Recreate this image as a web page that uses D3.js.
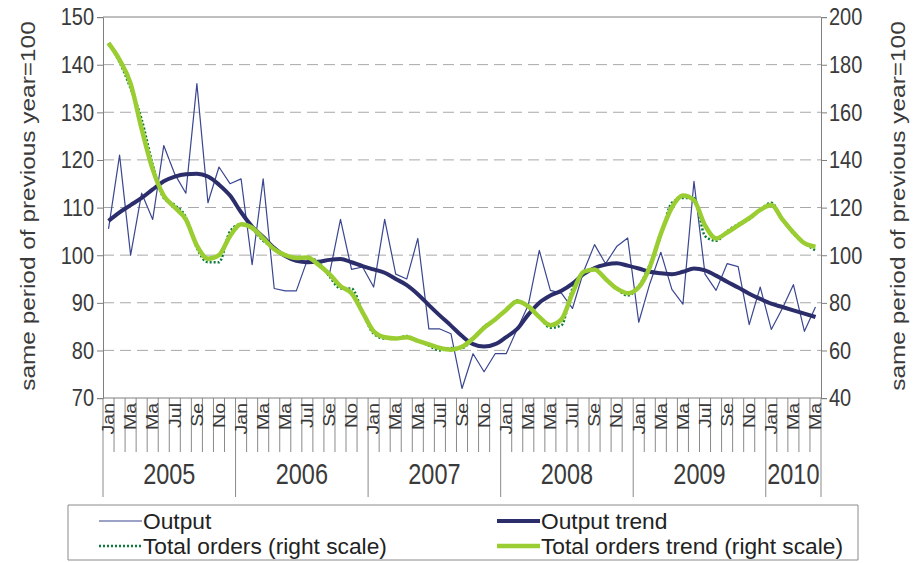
<!DOCTYPE html>
<html>
<head>
<meta charset="utf-8">
<script src="https://cdn.jsdelivr.net/npm/d3@7"></script>
<style>
  html, body { margin: 0; padding: 0; background: #fff; }
  svg { display: block; font-family: "Liberation Sans", Arial, sans-serif; }
</style>
</head>
<body>
<div id="chart"></div>
<script>
// category axis: monthly, Jan 2005 .. May 2010
const years = ["2005", "2006", "2007", "2008", "2009", "2010"];
const monthsPerYear = [12, 12, 12, 12, 12, 5];
const monthTickLabels = ["Jan", "", "Ma", "", "Ma", "", "Jul", "", "Se", "", "No", ""];

const leftTicks = [70, 80, 90, 100, 110, 120, 130, 140, 150];
const rightTicks = [40, 60, 80, 100, 120, 140, 160, 180, 200];

// left scale
const output = [
  105.5, 121, 100, 113, 107.5, 123, 117, 113, 136, 111, 118.5, 115,
  116, 98, 116, 93, 92.5, 92.5, 99, 98.5, 96, 107.5, 97, 97.5,
  93.3, 107.5, 96, 95, 103.5, 84.5, 84.5, 83.5, 72, 79.3, 75.5, 79.3,
  79.3, 84.5, 89.5, 101, 92.6, 92, 88.8, 96.5, 102.2, 98.2, 101.8, 103.6,
  85.9, 94, 100.6, 92.8, 89.7, 115.5, 96, 92.6, 98.2, 97.6, 85.4, 93.3,
  84.4, 88.8, 93.8, 84, 89.1
];
const outputTrend = [
  107.2, 109, 110.5, 112, 113.8, 115.5, 116.5, 117, 117.1, 116.5, 114.8, 112.5,
  109, 106, 103.8, 101.5, 99.8, 98.8, 98.5, 98.6, 99, 99.2, 98.5, 97.7,
  97, 96.3, 95, 93.7, 91.8, 89.5, 87.3, 85.2, 83, 81.3, 80.8, 81.3,
  82.8, 84.5, 87.5, 90, 91.5, 92.5, 94, 96, 97.3, 98, 98.3, 97.8,
  97.2, 96.5, 96.2, 96, 96.5, 97.2, 96.8, 95.7, 94.4, 93.2, 91.9, 90.8,
  89.8, 89.1, 88.4, 87.7, 87
];
// right scale
const totalOrders = [
  189, 181, 170, 157, 138, 124, 121, 116, 103, 97, 97, 110,
  113, 111, 106, 103, 100, 99, 99, 97, 91, 86, 86, 76,
  67, 65, 65, 66, 64, 62, 60, 61, 61, 65, 70, 73,
  77, 81, 78, 74, 69.5, 70.5, 86, 92, 94, 90, 86, 83,
  87, 96, 108, 122, 124, 124, 108, 106, 110, 113, 115, 119,
  122, 115, 109, 105, 102
];
const totalOrdersTrend = [
  189, 182, 172, 153, 136, 125, 120, 115, 104, 98.5, 100, 108,
  113, 111.5, 107, 102.5, 100, 98.8, 99, 96, 92, 87, 84, 76,
  68, 65.5, 65, 65.5, 64, 62.5, 61, 60.3, 61.5, 65, 69.5, 73,
  77, 80.5, 78.5, 74, 70.6, 73, 84, 93, 94, 90, 86, 84,
  86.5, 95, 109, 120, 125, 123, 112.5, 107, 109.5, 112.5, 115.5, 119,
  121, 115, 109.5, 105, 103.5
];

const legendItems = [
  { label: "Output", key: "output" },
  { label: "Output trend", key: "outputTrend" },
  { label: "Total orders (right scale)", key: "orders" },
  { label: "Total orders trend (right scale)", key: "ordersTrend" },
];

const styles = {
  output: { stroke: "#3a4690", width: 1.2, dash: null },
  outputTrend: { stroke: "#2c2e6c", width: 4, dash: null },
  orders: { stroke: "#0b7a3a", width: 2.5, dash: "2,2" },
  ordersTrend: { stroke: "#9acd32", width: 4.5, dash: null },
};

// the reference is stretched vertically, so draw in a squashed viewBox
const K = 1.22;
const W = 916, H = 563;
const py = (v) => v / K;

const svg = d3
  .select("#chart")
  .append("svg")
  .attr("width", W)
  .attr("height", H)
  .attr("viewBox", `0 0 ${W} ${H / K}`)
  .attr("preserveAspectRatio", "none");

const plotLeft = 103, plotRight = 821, plotTop = py(17), plotBottom = py(398);

const categories = years.flatMap((y, i) =>
  d3.range(monthsPerYear[i]).map((m) => `${y}-${m}`)
);

const x = d3.scaleBand().domain(categories).range([plotLeft, plotRight]).padding(0);
const cx = (i) => x(categories[i]) + x.bandwidth() / 2;
const yL = d3.scaleLinear().domain([70, 150]).range([plotBottom, plotTop]);
const yR = d3.scaleLinear().domain([40, 200]).range([plotBottom, plotTop]);

// gridlines
svg
  .append("g")
  .selectAll("line")
  .data(leftTicks.filter((t) => t > 70))
  .enter()
  .append("line")
  .attr("x1", plotLeft)
  .attr("x2", plotRight)
  .attr("y1", (d) => yL(d))
  .attr("y2", (d) => yL(d))
  .attr("stroke", (d) => (d === 150 ? "#7f7f7f" : "#a8a8a8"))
  .attr("stroke-width", 1)
  .attr("stroke-dasharray", (d) => (d === 150 ? null : "11,6"))
  .attr("vector-effect", "non-scaling-stroke");

// y axes
const styleAxis = (g) => {
  g.selectAll("path, line")
    .attr("stroke", "#7f7f7f")
    .attr("vector-effect", "non-scaling-stroke");
  g.selectAll("text").attr("fill", "#3a3a3a").style("font-size", "20px");
};

svg
  .append("g")
  .attr("transform", `translate(${plotLeft},0)`)
  .call(d3.axisLeft(yL).tickValues(leftTicks).tickSize(6).tickPadding(3).tickFormat(d3.format("d")))
  .call((g) => g.attr("font-family", null).attr("font-size", null))
  .call(styleAxis);

svg
  .append("g")
  .attr("transform", `translate(${plotRight},0)`)
  .call(d3.axisRight(yR).tickValues(rightTicks).tickSize(6).tickPadding(2).tickFormat(d3.format("d")))
  .call((g) => g.attr("font-family", null).attr("font-size", null))
  .call(styleAxis);

// category axis: bottom line, month ticks, year separators
const xAxis = svg.append("g");
xAxis
  .append("line")
  .attr("x1", plotLeft)
  .attr("x2", plotRight)
  .attr("y1", plotBottom)
  .attr("y2", plotBottom)
  .attr("stroke", "#7f7f7f")
  .attr("vector-effect", "non-scaling-stroke");

const yearStarts = d3.cumsum([0, ...monthsPerYear]);
const boundaries = d3.range(categories.length + 1);
xAxis
  .selectAll("line.tick")
  .data(boundaries)
  .enter()
  .append("line")
  .attr("class", "tick")
  .attr("x1", (i) => plotLeft + i * x.bandwidth())
  .attr("x2", (i) => plotLeft + i * x.bandwidth())
  .attr("y1", plotBottom)
  .attr("y2", (i) => (yearStarts.includes(i) ? py(497) : py(452)))
  .attr("stroke", "#8a8a8a")
  .attr("stroke-width", 1)
  .attr("vector-effect", "non-scaling-stroke");

xAxis
  .selectAll("text.month")
  .data(categories)
  .enter()
  .append("text")
  .attr("class", "month")
  .attr("transform", (d, i) => `translate(${cx(i)},${py(403)}) rotate(-90)`)
  .attr("dy", "0.36em")
  .attr("text-anchor", "end")
  .attr("fill", "#3a3a3a")
  .style("font-size", "16px")
  .text((d) => monthTickLabels[+d.split("-")[1]]);

xAxis
  .selectAll("text.year")
  .data(years)
  .enter()
  .append("text")
  .attr("class", "year")
  .attr("x", (d, i) => plotLeft + ((yearStarts[i] + yearStarts[i + 1]) / 2) * x.bandwidth())
  .attr("y", py(484))
  .attr("text-anchor", "middle")
  .attr("fill", "#3a3a3a")
  .style("font-size", "23.5px")
  .text((d) => d);

// axis titles
const title = "same period of previous year=100";
[
  { xPos: 28, yPos: 206 },
  { xPos: 898, yPos: 206 },
].forEach(({ xPos, yPos }) => {
  svg
    .append("text")
    .attr("transform", `translate(${xPos},${py(yPos)}) rotate(-90)`)
    .attr("dy", "0.36em")
    .attr("text-anchor", "middle")
    .attr("fill", "#3a3a3a")
    .style("font-size", "20px")
    .text(title);
});

// series
const straight = d3.line().x((d, i) => cx(i));
const smooth = d3.line().x((d, i) => cx(i)).curve(d3.curveMonotoneX);

const drawSeries = (values, yScale, gen, key) => {
  const s = styles[key];
  svg
    .append("path")
    .datum(values)
    .attr("d", gen.y((d) => yScale(d)))
    .attr("fill", "none")
    .attr("stroke", s.stroke)
    .attr("stroke-width", s.width)
    .attr("stroke-dasharray", s.dash)
    .attr("stroke-linejoin", "round")
    .attr("vector-effect", "non-scaling-stroke");
};

drawSeries(output, yL, straight, "output");
drawSeries(outputTrend, yL, smooth, "outputTrend");
drawSeries(totalOrders, yR, smooth, "orders");
drawSeries(totalOrdersTrend, yR, smooth, "ordersTrend");

// legend
const legend = svg.append("g");
legend
  .append("rect")
  .attr("x", 68)
  .attr("y", py(505))
  .attr("width", 790)
  .attr("height", py(55))
  .attr("fill", "#fff")
  .attr("stroke", "#8a8a8a")
  .attr("vector-effect", "non-scaling-stroke");

const legendPos = [
  { x: 99, y: 521 },
  { x: 497, y: 521 },
  { x: 99, y: 546 },
  { x: 497, y: 546 },
];

const li = legend
  .selectAll("g.item")
  .data(legendItems)
  .enter()
  .append("g")
  .attr("class", "item")
  .attr("transform", (d, i) => `translate(${legendPos[i].x},${py(legendPos[i].y)})`);

li.append("line")
  .attr("x1", 0)
  .attr("x2", 43)
  .attr("y1", 0)
  .attr("y2", 0)
  .attr("stroke", (d) => styles[d.key].stroke)
  .attr("stroke-width", (d) => styles[d.key].width)
  .attr("stroke-dasharray", (d) => styles[d.key].dash)
  .attr("vector-effect", "non-scaling-stroke");

// legend glyphs are wide in the reference: widen horizontally only
li.append("text")
  .attr("transform", "translate(44,0) scale(1.3,1)")
  .attr("dy", "0.36em")
  .attr("fill", "#222")
  .style("font-size", "17.5px")
  .text((d) => d.label);
</script>
</body>
</html>
